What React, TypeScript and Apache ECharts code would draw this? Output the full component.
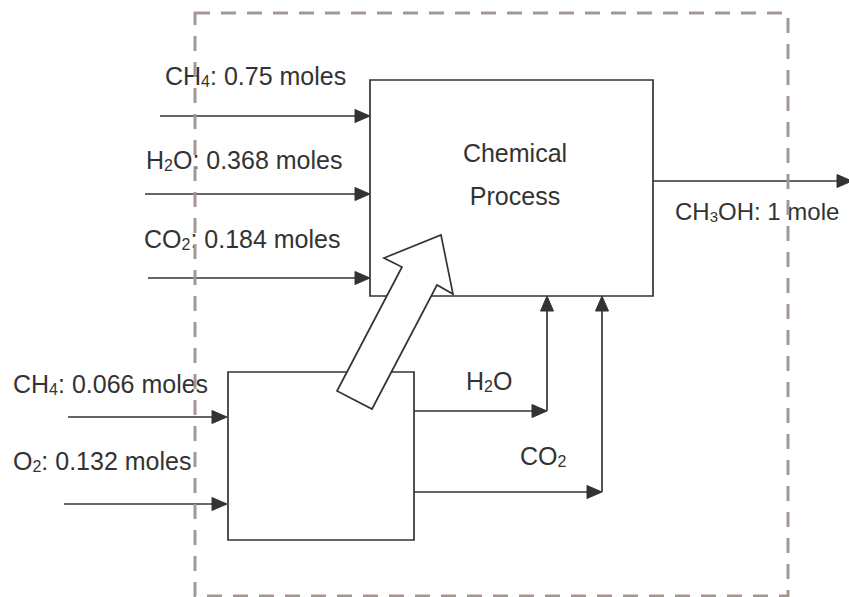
import React, { useEffect, useRef } from "react";
import * as echarts from "echarts";

// ---- data ----
const mainFeeds = ["CH4", "H2O", "CO2"];
const mainFeedMoles = [0.75, 0.368, 0.184];
const fuelFeeds = ["CH4", "O2"];
const fuelFeedMoles = [0.066, 0.132];
const products = ["CH3OH"];
const productMoles = [1];
const combustionProducts = ["H2O", "CO2"];
const processLabel = ["Chemical", "Process"];

// ---- layout ----
const mainLabelPos = [[165, 76], [146, 160], [144, 239]];
const mainArrowRows = [[160, 116], [145, 194], [148, 278]];
const fuelLabelPos = [[13, 384], [13, 461]];
const fuelArrowRows = [[68, 417], [64, 504]];
const procBox = { x: 370, y: 80, w: 283, h: 216 };
const fuelBox = { x: 228, y: 372, w: 186, h: 168 };
const frame = { x: 195, y: 13, w: 593, h: 583 };

const INK = "#333333";
const FONT = "Liberation Sans, Arial, sans-serif";

const sub = (f: string) => f.replace(/(\d+)/g, "{s|$1}");
const molesLabel = (f: string, m: number) => `${sub(f)}: ${m} ${m === 1 ? "mole" : "moles"}`;

function textEl(x: number, y: number, text: string, align = "left", size = 25) {
  return {
    type: "text",
    z: 4,
    x,
    y,
    style: {
      text,
      fill: INK,
      fontSize: size,
      fontFamily: FONT,
      align,
      verticalAlign: "middle",
      rich: {
        s: { fontSize: Math.round(size * 0.64), fontFamily: FONT, fill: INK, verticalAlign: "bottom", padding: [0, 0, -1, 0] },
      },
    },
  };
}

function arrowEl(x1: number, y1: number, x2: number, y2: number) {
  const len = Math.hypot(x2 - x1, y2 - y1);
  const ux = (x2 - x1) / len;
  const uy = (y2 - y1) / len;
  const hl = 15;
  const hw = 6.5;
  const bx = x2 - ux * hl;
  const by = y2 - uy * hl;
  return [
    {
      type: "line",
      z: 1,
      shape: { x1, y1, x2: bx, y2: by },
      style: { stroke: INK, lineWidth: 1.7 },
    },
    {
      type: "polygon",
      z: 1,
      shape: {
        points: [
          [x2, y2],
          [bx - uy * hw, by + ux * hw],
          [bx + uy * hw, by - ux * hw],
        ],
      },
      style: { fill: INK, stroke: INK, lineWidth: 1 },
    },
  ];
}

export default function App() {
  const ref = useRef<HTMLDivElement>(null);
  useEffect(() => {
    document.body.style.margin = "0";
    const chart = echarts.init(ref.current!, null, { renderer: "svg" });
    const els: any[] = [];

    // boxes
    els.push({
      type: "rect",
      z: 1,
      shape: { x: procBox.x, y: procBox.y, width: procBox.w, height: procBox.h },
      style: { fill: "none", stroke: INK, lineWidth: 1.7 },
    });
    els.push({
      type: "rect",
      z: 1,
      shape: { x: fuelBox.x, y: fuelBox.y, width: fuelBox.w, height: fuelBox.h },
      style: { fill: "none", stroke: INK, lineWidth: 1.7 },
    });

    // main feeds
    mainFeeds.forEach((f, i) => {
      els.push(textEl(mainLabelPos[i][0], mainLabelPos[i][1], molesLabel(f, mainFeedMoles[i])));
      els.push(...arrowEl(mainArrowRows[i][0], mainArrowRows[i][1], procBox.x, mainArrowRows[i][1]));
    });

    // fuel feeds
    fuelFeeds.forEach((f, i) => {
      els.push(textEl(fuelLabelPos[i][0], fuelLabelPos[i][1], molesLabel(f, fuelFeedMoles[i])));
      els.push(...arrowEl(fuelArrowRows[i][0], fuelArrowRows[i][1], fuelBox.x - 1, fuelArrowRows[i][1]));
    });

    // product
    els.push(...arrowEl(procBox.x + procBox.w, 181, 852, 181));
    els.push(textEl(675, 211, molesLabel(products[0], productMoles[0]), "left", 24));

    // combustion products routed back
    const routeX = [547, 602];
    const routeY = [411, 492];
    const routeLabel = [[466, 381], [520, 456]];
    combustionProducts.forEach((f, i) => {
      els.push(...arrowEl(fuelBox.x + fuelBox.w, routeY[i], routeX[i], routeY[i]));
      els.push(...arrowEl(routeX[i], routeY[i], routeX[i], procBox.y + procBox.h));
      els.push(textEl(routeLabel[i][0], routeLabel[i][1], sub(f)));
    });

    // process label
    els.push(textEl(515, 153, processLabel[0], "center"));
    els.push(textEl(515, 196, processLabel[1], "center"));

    // big hollow arrow (heat)
    els.push({
      type: "polygon",
      z: 2,
      shape: {
        points: [
          [337, 391],
          [402, 267],
          [384, 258],
          [441, 235],
          [453, 294],
          [437, 285],
          [372, 409],
        ],
      },
      style: { fill: "#ffffff", stroke: INK, lineWidth: 1.7 },
    });

    // dashed system boundary
    els.push({
      type: "rect",
      z: 5,
      shape: { x: frame.x, y: frame.y, width: frame.w, height: frame.h },
      style: { fill: "none", stroke: "#a39795", lineWidth: 3, lineDash: [15, 11] },
    });

    chart.setOption({ animation: false, graphic: { elements: els } });
    return () => chart.dispose();
  }, []);
  return <div ref={ref} style={{ width: 849, height: 597, background: "#fff" }} />;
}
